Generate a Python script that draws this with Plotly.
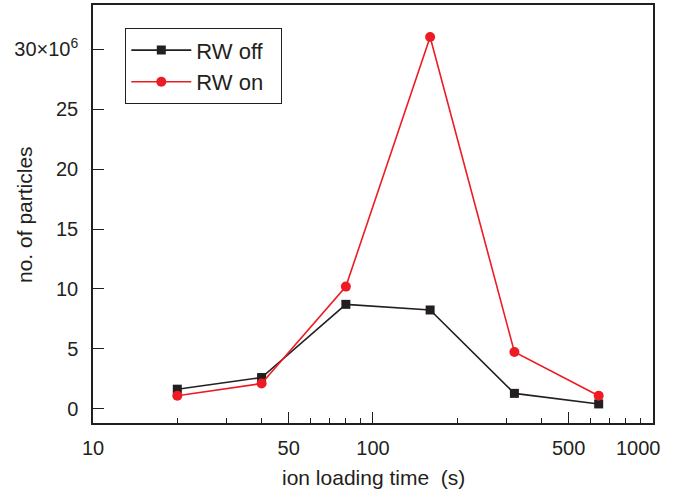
import plotly.graph_objects as go

# data
load_time = [20, 40, 80, 160, 320, 640]
rw_off = [1.65e6, 2.62e6, 8.72e6, 8.25e6, 1.3e6, 0.42e6]
rw_on = [1.1e6, 2.12e6, 10.2e6, 31.0e6, 4.75e6, 1.1e6]

x_tickvals = [10, 50, 100, 500]
x_ticktext = ["10", "50", "100", "500"]
x_last_tick = 1000
x_last_label = "1000"
x_minor = [20, 30, 40, 60, 70, 80, 90, 200, 300, 400, 600, 700, 800, 900]
y_tickvals = [0, 5e6, 10e6, 15e6, 20e6, 25e6, 30e6]
y_ticktext = ["0", "5", "10", "15", "20", "25", "30×10<sup>6</sup>"]

BLACK = "#231f20"
RED = "#ed1c24"
FONT = "Liberation Sans, Arial, sans-serif"
PAD = "\u00a0\u00a0"

fig = go.Figure()
fig.add_trace(go.Scatter(
    x=load_time, y=rw_off, name="RW off" + PAD, mode="lines+markers",
    line=dict(color=BLACK, width=1.6),
    marker=dict(symbol="square", size=9, color=BLACK),
    legendgroup="a",
))
fig.add_trace(go.Scatter(
    x=load_time, y=rw_on, name="RW on" + PAD, mode="lines+markers",
    line=dict(color=RED, width=1.6),
    marker=dict(symbol="circle", size=10, color=RED),
    legendgroup="b",
))

axis_common = dict(
    showline=True, linecolor=BLACK, linewidth=1.5, mirror=True,
    ticks="inside", ticklen=11, tickwidth=1.3, tickcolor=BLACK,
    showgrid=False, zeroline=False, automargin=False,
    tickfont=dict(family=FONT, size=20, color=BLACK),
)

fig.update_xaxes(
    type="log", range=[0.9999, 3.0002],
    tickmode="array", tickvals=x_tickvals, ticktext=x_ticktext,
    minor=dict(tickmode="array", tickvals=x_minor, ticks="inside",
               ticklen=5, tickwidth=1.2, tickcolor=BLACK, showgrid=False),
    ticklabelstandoff=6,
    **axis_common,
)
fig.update_yaxes(
    range=[-1.17e6, 33.67e6],
    tickmode="array", tickvals=y_tickvals, ticktext=y_ticktext,
    ticklabelstandoff=9,
    **axis_common,
)

# last x tick label, nudged left of its tick (which sits on the right frame)
fig.add_annotation(
    text=x_last_label, xref="x", yref="paper",
    x=3, y=-(448 - 423) / 418, xanchor="center", yanchor="middle", xshift=-14,
    showarrow=False, font=dict(family=FONT, size=20, color=BLACK),
)
fig.add_annotation(
    text="ion loading time  (s)", xref="paper", yref="paper",
    x=(373 - 93) / 560, y=-(477 - 423) / 418, xanchor="center", yanchor="middle",
    showarrow=False, font=dict(family=FONT, size=21, color=BLACK),
)
fig.add_annotation(
    text="no. of particles", xref="paper", yref="paper",
    x=-(93 - 24) / 560, y=(423 - 215) / 418, xanchor="center", yanchor="middle",
    textangle=-90, showarrow=False, font=dict(family=FONT, size=21, color=BLACK),
)

fig.update_layout(
    width=681, height=494,
    margin=dict(l=93, r=28, t=5, b=71),
    paper_bgcolor="white", plot_bgcolor="white",
    font=dict(family=FONT, size=20, color=BLACK),
    showlegend=True,
    legend=dict(
        x=(125 - 93) / 560, y=(423 - 28) / 418, xanchor="left", yanchor="top",
        bordercolor=BLACK, borderwidth=1.3, bgcolor="white",
        font=dict(family=FONT, size=22, color=BLACK),
        tracegroupgap=0, itemwidth=60,
    ),
)

fig.write_html("out.html", config={"displayModeBar": False},
               post_script="document.body.style.margin='0px';")
